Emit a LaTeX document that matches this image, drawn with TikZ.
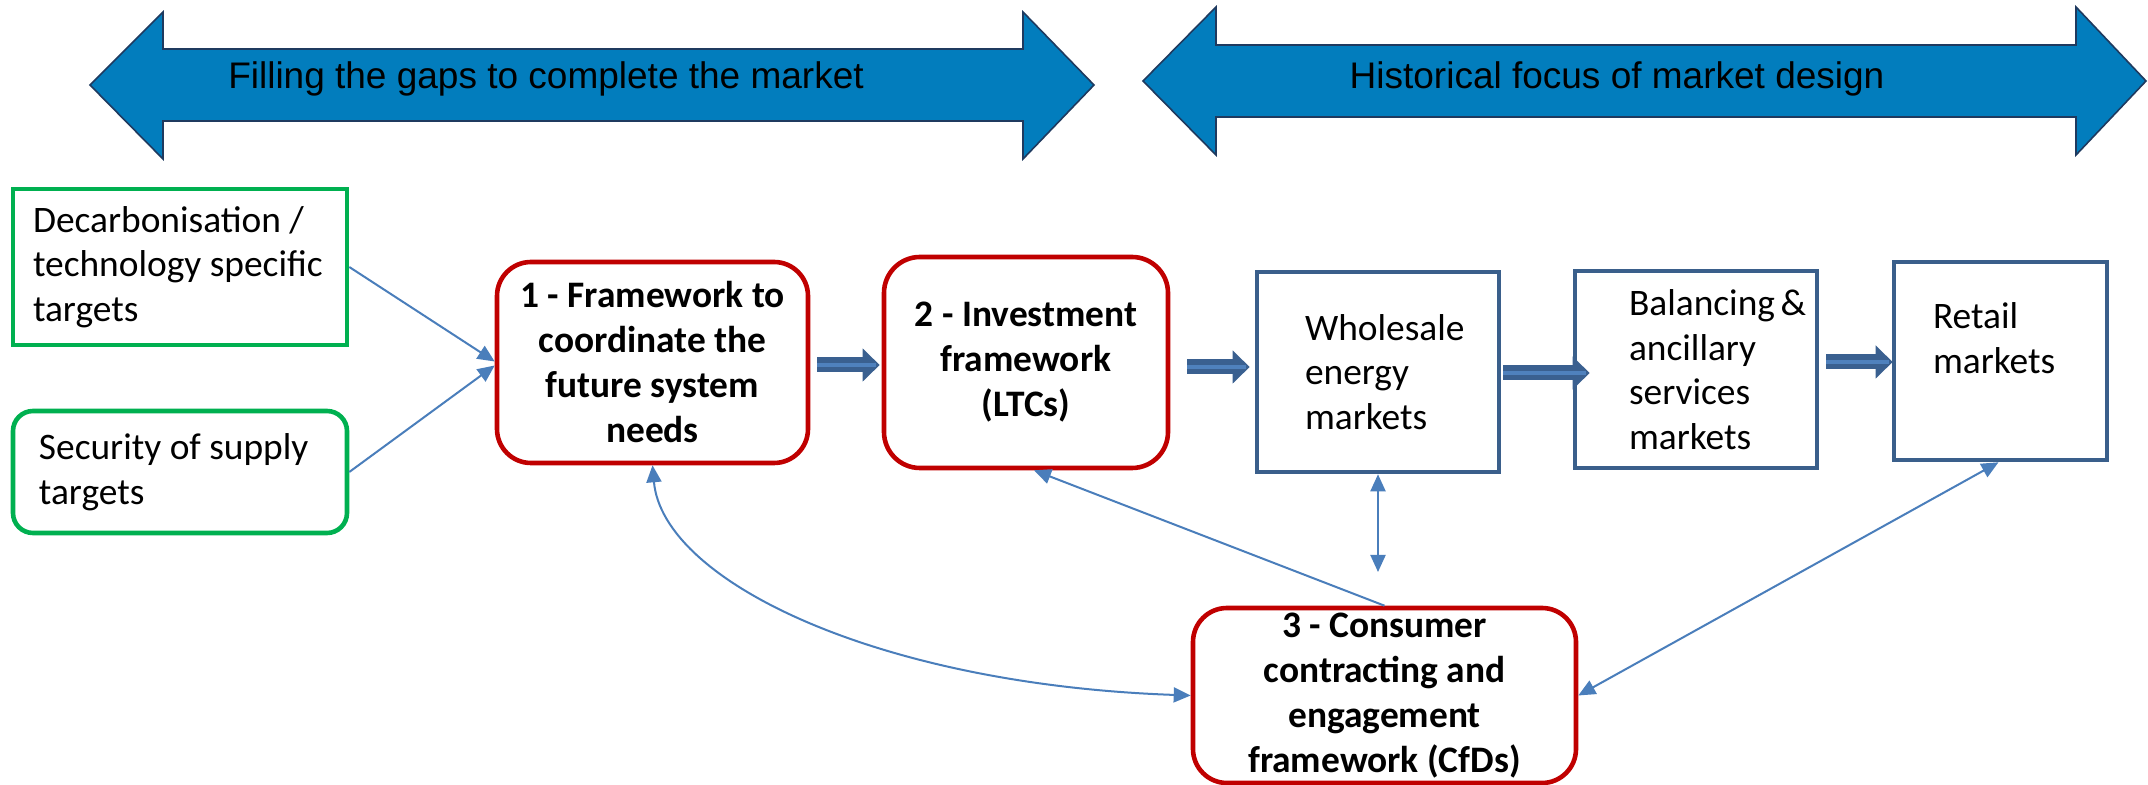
\documentclass[tikz,border=0pt]{standalone}
\usepackage{fontspec}
\setmainfont{Carlito}
\newfontfamily\bannerfont{Liberation Sans}
\usetikzlibrary{arrows.meta}
% box labels are set line by line and never hyphenated
\AtBeginDocument{\hyphenpenalty=10000 \exhyphenpenalty=10000 }

\definecolor{bannerblue}{HTML}{027DBD}
\definecolor{banneredge}{HTML}{1F3A5F}
\definecolor{targetgreen}{HTML}{00B050}
\definecolor{frameworkred}{HTML}{C00000}
\definecolor{marketblue}{HTML}{3A5F8B}
\definecolor{linkblue}{HTML}{4A7EBB}
\definecolor{flowdark}{HTML}{3A6090}
\definecolor{flowlight}{HTML}{4F81BD}

\begin{document}
\begin{tikzpicture}[x=0.5pt, y=0.5pt,
  linktip/.tip={Triangle[length=8.5pt, width=7.5pt]},
  box/.style={draw, line width=2.3pt, fill=white, inner sep=0pt, align=center,
    font=\fontsize{18.7}{22.3}\selectfont},
  % left-set text: #1 = left inset, #2 = text width
  leftset/.style 2 args={align=flush left, inner xsep=#1, text width=#2},
  target/.style={box, draw=targetgreen},
  framework/.style={box, draw=frameworkred, rounded corners=17pt,
    font=\fontsize{18.7}{22.5}\selectfont\bfseries},
  market/.style={box, draw=marketblue},
  banner/.style={fill=bannerblue, draw=banneredge, line width=0.8pt, line join=miter},
  bannertext/.style={font=\bannerfont\fontsize{18.5}{22}\selectfont, anchor=base, inner sep=0pt},
  link/.style={draw=linkblue, line width=1pt},
  flow/.style={draw=flowdark, line width=7.5pt, -{Triangle[length=8.5pt, width=16pt]},
    postaction={draw=flowlight, line width=2pt, -, shorten >=2pt}}
]
\useasboundingbox (0,0) rectangle (2148,-785);

% two-headed banners across the top
\path[banner] (90,-85) -- (163,-12) -- (163,-49) -- (1023,-49) -- (1023,-12) -- (1094,-85)
  -- (1023,-159) -- (1023,-121) -- (163,-121) -- (163,-159) -- cycle;
\node[bannertext] (gapsbanner) at (546,-89) {Filling the gaps to complete the market};

\path[banner] (1143,-81) -- (1216,-7) -- (1216,-45) -- (2076,-45) -- (2076,-7) -- (2146,-81)
  -- (2076,-155) -- (2076,-117) -- (1216,-117) -- (1216,-155) -- cycle;
\node[bannertext] (historybanner) at (1617,-89) {Historical focus of market design};

% target boxes
\node[target, leftset={10pt}{147pt}, minimum height=78pt] (g1) at (180,-267)
  {Decarbonisation /\\technology specific\\targets};
\node[target, leftset={13pt}{141pt}, rounded corners=10pt, minimum height=61pt] (g2) at (180,-472)
  {Security of supply\\targets};

% framework boxes
\node[framework, minimum width=155.5pt, minimum height=100.5pt] (r1) at (652.5,-362.5)
  {1 - Framework to\\coordinate the\\future system\\needs};
\node[framework, rounded corners=18pt, minimum width=142pt, minimum height=105.5pt] (r2) at (1026,-362.5)
  {2 - Investment\\framework\\(LTCs)};
\node[framework, minimum width=191.5pt, minimum height=87.5pt] (r3) at (1384.5,-695.5)
  {3 - Consumer\\contracting and\\engagement\\framework (CfDs)};

% market boxes
\node[market, leftset={24pt}{73pt}, minimum height=100pt] (w) at (1378,-372)
  {Wholesale\\energy\\markets};
\node[market, leftset={27pt}{67pt}, minimum height=98.5pt] (b) at (1696,-369.5)
  {Balancing~\&\\ancillary\\services\\markets};
\node[market, leftset={19.5pt}{67.5pt}, text depth=45pt, minimum height=99pt] (rt) at (2000.5,-361)
  {Retail\\markets};

% main flow
\draw[flow] ([xshift=3.5pt, yshift=-1.25pt]r1.east) -- ([xshift=-1pt, yshift=-1.25pt]r2.west);
\draw[flow] ([xshift=8.5pt, yshift=-2.25pt]r2.east) -- ([xshift=-2.5pt, yshift=2.5pt]w.west);
\draw[flow] ([xshift=1pt, yshift=-0.5pt]w.east) -- ([xshift=8.5pt, yshift=-1.75pt]b.west);
\draw[flow] ([xshift=3.5pt, yshift=3.75pt]b.east) -- ([xshift=0.5pt, yshift=-0.5pt]rt.west);

% links
\draw[link, -linktip] (g1.east) -- ([yshift=0.5pt]r1.west);
\draw[link, -linktip] (g2.east) -- ([yshift=-1.5pt]r1.west);
\draw[link, linktip-linktip] (r1.south) to[out=-85, in=178, out distance=58pt, in distance=157pt] (r3.west);
\draw[link, -linktip] (r3.north) -- ([xshift=4pt]r2.south);
\coordinate (wlow) at (1378,-572);
\draw[link, linktip-linktip] (w.south) -- (wlow);
\draw[link, linktip-linktip] ([xshift=-1pt]rt.south) -- (r3.east);
\end{tikzpicture}
\end{document}
